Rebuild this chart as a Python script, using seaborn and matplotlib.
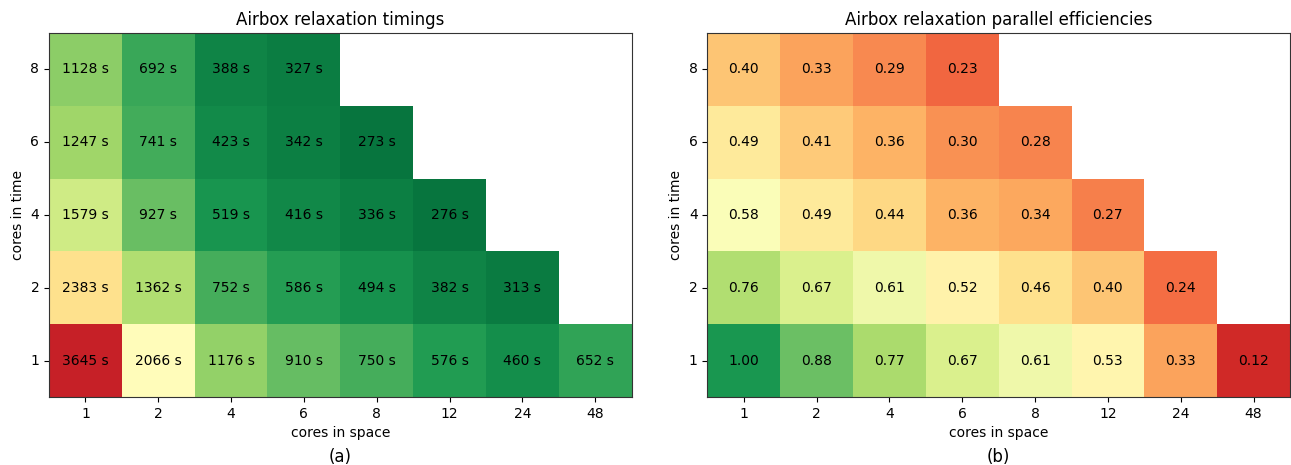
import numpy as np
import pandas as pd
import matplotlib
matplotlib.use("Agg")
import matplotlib.pyplot as plt
import seaborn as sns

# cores in space (columns) and cores in time (rows, top to bottom)
space_cores = [1, 2, 4, 6, 8, 12, 24, 48]
time_cores = [8, 6, 4, 2, 1]

# wall-clock timings in seconds, NaN = not run
timings_8 = [1128, 692, 388, 327, np.nan, np.nan, np.nan, np.nan]
timings_6 = [1247, 741, 423, 342, 273, np.nan, np.nan, np.nan]
timings_4 = [1579, 927, 519, 416, 336, 276, np.nan, np.nan]
timings_2 = [2383, 1362, 752, 586, 494, 382, 313, np.nan]
timings_1 = [3645, 2066, 1176, 910, 750, 576, 460, 652]

# parallel efficiencies
eff_8 = [0.40, 0.33, 0.29, 0.23, np.nan, np.nan, np.nan, np.nan]
eff_6 = [0.49, 0.41, 0.36, 0.30, 0.28, np.nan, np.nan, np.nan]
eff_4 = [0.58, 0.49, 0.44, 0.36, 0.34, 0.27, np.nan, np.nan]
eff_2 = [0.76, 0.67, 0.61, 0.52, 0.46, 0.40, 0.24, np.nan]
eff_1 = [1.00, 0.88, 0.77, 0.67, 0.61, 0.53, 0.33, 0.12]

timings = pd.DataFrame([timings_8, timings_6, timings_4, timings_2, timings_1],
                       index=time_cores, columns=space_cores)
effs = pd.DataFrame([eff_8, eff_6, eff_4, eff_2, eff_1],
                    index=time_cores, columns=space_cores)

timing_labels = timings.map(lambda v: "" if np.isnan(v) else f"{int(v)} s")

fig, (ax1, ax2) = plt.subplots(1, 2, figsize=(12.91, 4.65), dpi=100)
fig.subplots_adjust(left=49/1291, right=1290/1291, top=1-33/465,
                    bottom=1-397/465, wspace=0.13)

sns.heatmap(timings, ax=ax1, cmap="RdYlGn_r", vmin=160, vmax=3900,
            annot=timing_labels.values, fmt="", cbar=False,
            annot_kws={"color": "black", "fontsize": 10})
ax1.set_title("Airbox relaxation timings", fontsize=12)

sns.heatmap(effs, ax=ax2, cmap="RdYlGn", vmin=0.023, vmax=1.108,
            annot=True, fmt=".2f", cbar=False,
            annot_kws={"color": "black", "fontsize": 10})
ax2.set_title("Airbox relaxation parallel efficiencies", fontsize=12)

for ax, tag in [(ax1, "(a)"), (ax2, "(b)")]:
    ax.set_xlabel("cores in space", fontsize=10)
    ax.set_ylabel("cores in time", fontsize=10)
    ax.tick_params(axis="y", rotation=0)
    ax.tick_params(length=3.5, labelsize=10)
    for s in ax.spines.values():
        s.set_visible(True)
        s.set_color("#333333")
    ax.text(0.5, -60/364, tag, transform=ax.transAxes, ha="center",
            va="center", fontsize=12)

fig.savefig("out.png", dpi=100)
